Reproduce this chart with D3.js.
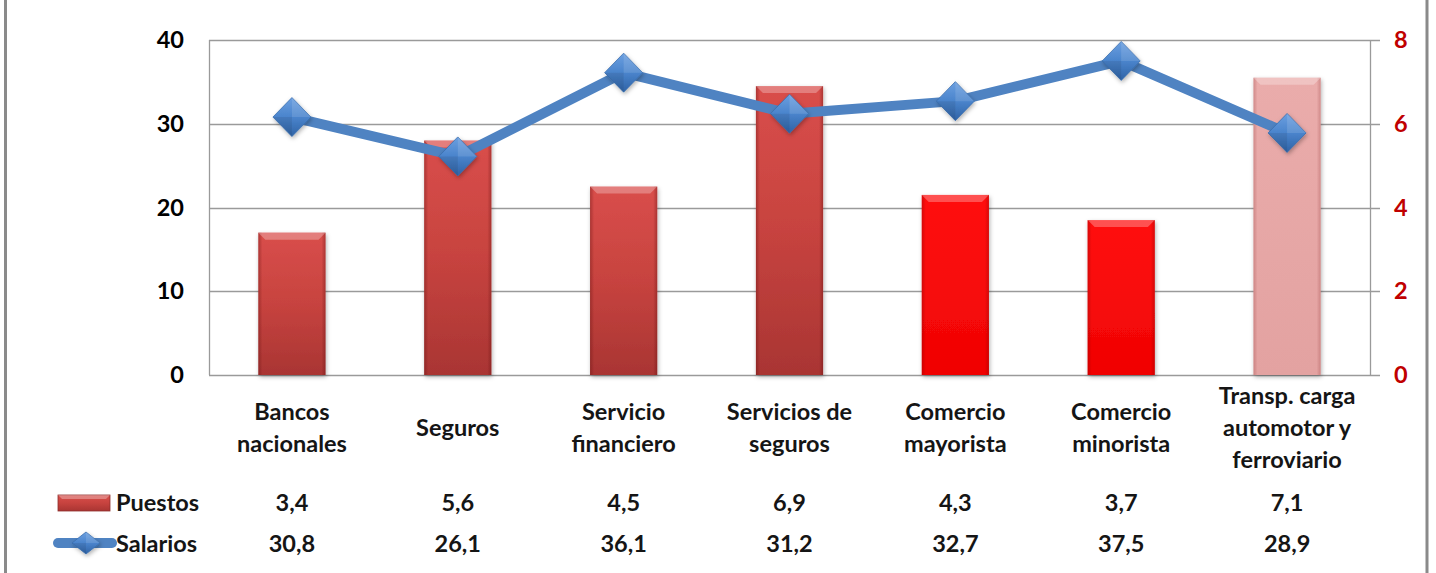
<!DOCTYPE html>
<html>
<head>
<meta charset="utf-8">
<script src="https://cdn.jsdelivr.net/npm/d3@7"></script>
<style>
html,body{margin:0;padding:0;background:#fff;}
svg{display:block;font-family:Lato,"Open Sans",sans-serif;font-weight:bold;}
</style>
</head>
<body>
<svg id="chart" width="1436" height="573"></svg>
<script>
const categories = [
  ["Bancos","nacionales"],
  ["Seguros"],
  ["Servicio","financiero"],
  ["Servicios de","seguros"],
  ["Comercio","mayorista"],
  ["Comercio","minorista"],
  ["Transp. carga","automotor y","ferroviario"]
];
const puestos = [3.4, 5.6, 4.5, 6.9, 4.3, 3.7, 7.1];
const salarios = [30.8, 26.1, 36.1, 31.2, 32.7, 37.5, 28.9];
const puestosLabels = ["3,4","5,6","4,5","6,9","4,3","3,7","7,1"];
const salariosLabels = ["30,8","26,1","36,1","31,2","32,7","37,5","28,9"];
const barGroup = ["dark","dark","dark","dark","bright","bright","pink"];
const leftTicks = [0,10,20,30,40];
const rightTicks = [0,2,4,6,8];

const svg = d3.select("#chart");
const L = 209, R = 1370, T = 40, B = 375;
const FS = 23.5;

const idx = d3.range(categories.length);
const x = d3.scaleBand().domain(idx).range([L, R]).padding(0);
const yL = d3.scaleLinear().domain([0, 40]).range([B, T]);
const yR = d3.scaleLinear().domain([0, 8]).range([B, T]);
const cx = i => x(i) + x.bandwidth() / 2;
const barW = x.bandwidth() * 0.405;

// defs
const defs = svg.append("defs");
function vgrad(id, stops) {
  const g = defs.append("linearGradient").attr("id", id).attr("x1",0).attr("y1",0).attr("x2",0).attr("y2",1);
  stops.forEach(s => g.append("stop").attr("offset", s[0]).attr("stop-color", s[1]));
}
function hgrad(id, stops) {
  const g = defs.append("linearGradient").attr("id", id).attr("x1",0).attr("y1",0).attr("x2",1).attr("y2",0);
  stops.forEach(s => g.append("stop").attr("offset", s[0]).attr("stop-color", s[1]));
}
vgrad("g-dark", [[0,"#d94e4b"],[0.5,"#c7433f"],[1,"#a93533"]]);
vgrad("g-bright", [[0,"#ff1010"],[1,"#f00303"]]);
vgrad("g-pink", [[0,"#eaacab"],[1,"#e3a2a1"]]);
hgrad("e-dark", [[0,"rgba(90,10,10,0.35)"],[0.06,"rgba(90,10,10,0)"],[0.94,"rgba(90,10,10,0)"],[1,"rgba(90,10,10,0.35)"]]);
hgrad("e-bright", [[0,"rgba(120,0,0,0.3)"],[0.06,"rgba(120,0,0,0)"],[0.94,"rgba(120,0,0,0)"],[1,"rgba(120,0,0,0.3)"]]);
hgrad("e-pink", [[0,"rgba(150,60,60,0.3)"],[0.06,"rgba(150,60,60,0)"],[0.94,"rgba(150,60,60,0)"],[1,"rgba(150,60,60,0.3)"]]);
const dg = defs.append("linearGradient").attr("id","g-diam").attr("x1",0).attr("y1",0).attr("x2",0).attr("y2",1);
dg.append("stop").attr("offset",0).attr("stop-color","#6b9fe0");
dg.append("stop").attr("offset",0.5).attr("stop-color","#4a84cc");
dg.append("stop").attr("offset",1).attr("stop-color","#2f63a6");
const sh = defs.append("filter").attr("id","shadow").attr("x","-30%").attr("y","-30%").attr("width","160%").attr("height","160%");
sh.append("feDropShadow").attr("dx",1).attr("dy",2).attr("stdDeviation",2).attr("flood-color","#000").attr("flood-opacity",0.3);

// frame borders
svg.append("line").attr("x1",5.5).attr("x2",5.5).attr("y1",0).attr("y2",573).attr("stroke","#8a8a8a").attr("stroke-width",3);
svg.append("line").attr("x1",1427).attr("x2",1427).attr("y1",0).attr("y2",573).attr("stroke","#8a8a8a").attr("stroke-width",3);

// gridlines
svg.append("g").selectAll("line").data(leftTicks).join("line")
  .attr("x1", L).attr("x2", R + 10)
  .attr("y1", d => Math.round(yL(d)) + 0.5).attr("y2", d => Math.round(yL(d)) + 0.5)
  .attr("stroke", "#9a9a9a").attr("stroke-width", 1.3);
// axis lines
svg.append("line").attr("x1", L + 0.5).attr("x2", L + 0.5).attr("y1", T).attr("y2", B).attr("stroke","#9a9a9a").attr("stroke-width",1.3);
svg.append("line").attr("x1", R + 0.5).attr("x2", R + 0.5).attr("y1", T).attr("y2", B).attr("stroke","#9a9a9a").attr("stroke-width",1.3);

// axis labels
svg.append("g").selectAll("text").data(leftTicks).join("text")
  .attr("x", 184).attr("y", d => yL(d)).attr("dy", "0.35em")
  .attr("text-anchor","end").attr("font-size", FS).attr("fill","#000")
  .text(d => d);
svg.append("g").selectAll("text").data(rightTicks).join("text")
  .attr("x", 1394).attr("y", d => yR(d)).attr("dy", "0.35em")
  .attr("text-anchor","start").attr("font-size", FS).attr("fill","#c00000")
  .text(d => d);

// bars
const bars = svg.append("g");
idx.forEach(i => {
  const g = barGroup[i];
  const bx = cx(i) - barW / 2, by = yR(puestos[i]), bh = B - yR(puestos[i]);
  bars.append("rect").attr("x", bx).attr("y", by).attr("width", barW).attr("height", bh)
    .attr("fill", `url(#g-${g})`).attr("filter","url(#shadow)");
  bars.append("rect").attr("x", bx).attr("y", by).attr("width", barW).attr("height", bh)
    .attr("fill", `url(#e-${g})`);
  bars.append("path")
    .attr("d", `M${bx},${by} L${bx+barW},${by} L${bx+barW-7},${by+7} L${bx+7},${by+7} Z`)
    .attr("fill", "rgba(255,255,255,0.28)");
});

// line
const line = d3.line().x((d, i) => cx(i)).y(d => yL(d));
svg.append("path").datum(salarios).attr("d", line)
  .attr("fill","none").attr("stroke","#4f83c2").attr("stroke-width",10).attr("stroke-linejoin","round");

function diamond(g, x0, y0, w, h) {
  g.append("path")
    .attr("d", `M${x0},${y0-h/2} L${x0+w/2},${y0} L${x0},${y0+h/2} L${x0-w/2},${y0} Z`)
    .attr("fill","url(#g-diam)").attr("stroke","#3a6eae").attr("stroke-width",0.8)
    .attr("filter","url(#shadow)");
  g.append("path")
    .attr("d", `M${x0},${y0-h/2} L${x0+w/2},${y0} L${x0},${y0} Z`)
    .attr("fill","rgba(255,255,255,0.12)");
  g.append("path")
    .attr("d", `M${x0-w/2},${y0} L${x0},${y0+h/2} L${x0},${y0} Z`)
    .attr("fill","rgba(0,0,0,0.08)");
}
const markers = svg.append("g");
salarios.forEach((v, i) => diamond(markers, cx(i), yL(v), 38, 39));

// category labels
const catG = svg.append("g");
categories.forEach((lines, i) => {
  const n = lines.length, lh = 32, mid = 436;
  lines.forEach((t, j) => {
    catG.append("text").attr("x", cx(i)).attr("y", mid + (j - (n - 1) / 2) * lh)
      .attr("text-anchor","middle").attr("font-size", FS).attr("fill","#151515").text(t);
  });
});

// data table rows
const tbl = svg.append("g");
tbl.selectAll("text.p").data(puestosLabels).join("text").attr("class","p")
  .attr("x", (d, i) => cx(i)).attr("y", 511).attr("text-anchor","middle")
  .attr("font-size", FS).attr("fill","#151515").text(d => d);
tbl.selectAll("text.s").data(salariosLabels).join("text").attr("class","s")
  .attr("x", (d, i) => cx(i)).attr("y", 552).attr("text-anchor","middle")
  .attr("font-size", FS).attr("fill","#151515").text(d => d);

// legend keys
const lg = svg.append("g");
lg.append("rect").attr("x", 58).attr("y", 495).attr("width", 52).attr("height", 16)
  .attr("fill","url(#g-dark)").attr("stroke","#8e2e2c").attr("stroke-width",0.8);
lg.append("path").attr("d","M58,495 L110,495 L106,499 L62,499 Z").attr("fill","rgba(255,255,255,0.3)");
lg.append("text").attr("x", 116).attr("y", 511).attr("font-size", FS).attr("fill","#151515").text("Puestos");
lg.append("line").attr("x1", 58).attr("x2", 112).attr("y1", 543).attr("y2", 543)
  .attr("stroke","#4f83c2").attr("stroke-width",10).attr("stroke-linecap","round");
diamond(lg, 86, 543, 28, 22);
lg.append("text").attr("x", 116).attr("y", 552).attr("font-size", FS).attr("fill","#151515").text("Salarios");
</script>
</body>
</html>
